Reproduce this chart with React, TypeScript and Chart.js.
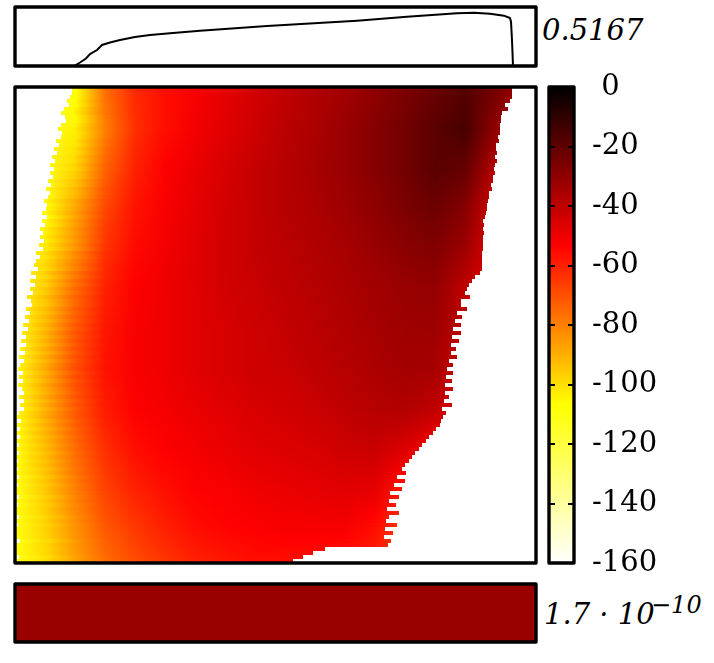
import React, { useEffect, useRef } from "react";
import { Chart, registerables } from "chart.js";

Chart.register(...registerables);

const SERIF = '"DejaVu Serif", serif';
const DOMAIN_X = 521;

// ---- colour scale ----
const scaleValues = [-160, -106.67, -53.33, 0];
const scaleColors = [
  [255, 255, 255],
  [255, 255, 0],
  [255, 0, 0],
  [0, 0, 0],
];
const colorbarTicks = [0, -20, -40, -60, -80, -100, -120, -140, -160];

// ---- top profile ----
const profileX = [60, 65, 71, 75, 82, 85, 87, 95, 105, 120, 135, 155, 185, 252, 342, 392, 442, 459, 475, 489, 495, 496, 497, 498];
const profileY = [0.005, 0.034, 0.073, 0.116, 0.155, 0.184, 0.204, 0.228, 0.252, 0.281, 0.301, 0.318, 0.342, 0.388, 0.439, 0.478, 0.511, 0.5167, 0.507, 0.488, 0.465, 0.429, 0.252, 0];
const profileLabel = "0.5167";

// ---- bottom residual ----
const residualValue = -32;

// ---- heat map: extents of each row ----
const leftEdge = [
  57, 57, 55, 52, 54, 49, 46, 50, 51, 46, 43, 47, 46, 41, 44, 39, 42, 37, 40, 35, 39, 35, 38, 33,
  36, 31, 35, 33, 29, 32, 31, 27, 32, 27, 30, 25, 28, 25, 29, 24, 28, 21, 25, 21, 19, 23, 16, 21,
  15, 20, 15, 18, 12, 16, 17, 11, 15, 10, 14, 8, 13, 7, 11, 6, 11, 5, 10, 4, 9, 5, 3, 8,
  4, 8, 3, 7, 9, 4, 9, 5, 9, 4, 2, 6, 2, 5, 1, 5, 1, 4, 1, 4, 0, 3, 0, 3,
  0, 4, 0, 3, 0, 1, 4, 0, 3, 0, 1, 4, 0, 3, 0, 1, 0, 5, 0, 1, 0, 4, 0,
];
const rightEdge = [
  497, 497, 497, 495, 490, 493, 487, 486, 486, 485, 485, 485, 483, 484, 481, 481, 482, 480, 482, 480, 479, 480, 478, 478,
  476, 477, 474, 474, 473, 472, 472, 471, 470, 468, 469, 468, 469, 468, 468, 468, 468, 467, 467, 467, 467, 467, 465, 460,
  457, 454, 452, 450, 455, 446, 446, 452, 442, 447, 440, 446, 438, 446, 437, 444, 436, 441, 436, 442, 434, 438, 432, 438,
  431, 437, 430, 438, 430, 434, 429, 437, 427, 431, 428, 426, 425, 421, 418, 414, 411, 407, 404, 400, 397, 394, 390, 387,
  391, 382, 390, 379, 387, 375, 384, 374, 381, 372, 384, 374, 371, 382, 370, 378, 369, 376, 373, 310, 298, 288, 278,
];

// ---- heat map: values read at these columns, on these rows ----
const heatColumns = [0, 30, 60, 90, 120, 150, 180, 210, 240, 270, 300, 330, 360, 390, 420, 450, 480, 510];
const heatRows = [0, 10, 20, 30, 40, 50, 60, 70, 80, 90, 100, 110, 118];
const heat00 = [-112, -112, -108, -76, -62, -56, -52, -48, -44, -40, -37, -34, -30, -26, -22, -18, -24, -36];
const heat10 = [-112, -112, -104, -80, -63, -56, -51, -47, -43, -39, -36, -32, -28, -24, -19, -15, -30, -38];
const heat20 = [-112, -112, -98, -74, -60, -53, -49, -45, -41, -38, -35, -32, -28, -24, -19, -21, -38, -42];
const heat30 = [-112, -108, -88, -68, -57, -52, -48, -44, -41, -38, -36, -33, -30, -26, -23, -28, -45, -48];
const heat40 = [-112, -102, -84, -64, -55, -51, -47, -44, -41, -39, -37, -35, -32, -29, -27, -33, -48, -50];
const heat50 = [-112, -96, -76, -60, -53, -50, -47, -44, -42, -40, -38, -36, -34, -32, -31, -40, -48, -50];
const heat60 = [-110, -92, -72, -58, -52, -50, -47, -45, -43, -41, -39, -37, -35, -33, -33, -40, -46, -48];
const heat70 = [-110, -90, -70, -57, -52, -50, -47, -45, -43, -42, -40, -38, -36, -34, -35, -44, -48, -50];
const heat80 = [-108, -90, -72, -59, -53, -51, -49, -47, -45, -44, -42, -40, -38, -37, -40, -48, -50, -52];
const heat90 = [-108, -93, -76, -63, -56, -53, -51, -49, -47, -46, -45, -43, -42, -46, -52, -54, -56, -56];
const heat100 = [-110, -96, -80, -67, -60, -56, -53, -52, -50, -49, -48, -47, -48, -58, -60, -60, -60, -60];
const heat110 = [-110, -98, -84, -72, -65, -60, -56, -54, -53, -52, -52, -52, -56, -66, -68, -68, -68, -68];
const heat118 = [-110, -100, -87, -76, -69, -64, -60, -58, -56, -56, -56, -58, -60, -68, -70, -70, -70, -70];
const heatTable = [heat00, heat10, heat20, heat30, heat40, heat50, heat60, heat70, heat80, heat90, heat100, heat110, heat118];

const rowLabels = leftEdge.map((_, i) => String(i));

function colorOf(v: number) {
  let k = 0;
  while (k < scaleValues.length - 2 && v > scaleValues[k + 1]) k++;
  const t = Math.min(1, Math.max(0, (v - scaleValues[k]) / (scaleValues[k + 1] - scaleValues[k])));
  const a = scaleColors[k];
  const b = scaleColors[k + 1];
  const c = a.map((x, j) => Math.round(x + (b[j] - x) * t));
  return `rgb(${c[0]},${c[1]},${c[2]})`;
}

// How far this row's edge sticks out from its neighbours; the streaks near the edge follow it.
function edgeJitter(row: number) {
  let sum = 0;
  let n = 0;
  for (let r = Math.max(0, row - 4); r <= Math.min(leftEdge.length - 1, row + 4); r++) {
    sum += leftEdge[r];
    n++;
  }
  return leftEdge[row] - sum / n;
}

function rowFill(chart: any, row: number) {
  const x = chart.scales.x;
  const a = x.getPixelForValue(0);
  const b = x.getPixelForValue(DOMAIN_X);
  if (!Number.isFinite(a) || !Number.isFinite(b)) return "transparent";
  const g = chart.ctx.createLinearGradient(a, 0, b, 0);
  let k = 0;
  while (k < heatRows.length - 2 && row > heatRows[k + 1]) k++;
  const t = (row - heatRows[k]) / (heatRows[k + 1] - heatRows[k]);
  const jitter = edgeJitter(row);
  heatColumns.forEach((col, c) => {
    const v = heatTable[k][c] + (heatTable[k + 1][c] - heatTable[k][c]) * t;
    const shifted = col + 1.2 * jitter * Math.max(0, 1 - col / 110);
    g.addColorStop(Math.min(1, Math.max(0, shifted / DOMAIN_X)), colorOf(v));
  });
  return g;
}

function barFill(ctx: any) {
  const y = ctx.chart.scales.y;
  const a = y.getPixelForValue(-160);
  const b = y.getPixelForValue(0);
  if (!Number.isFinite(a) || !Number.isFinite(b)) return "transparent";
  const g = ctx.chart.ctx.createLinearGradient(0, a, 0, b);
  scaleValues.forEach((v) => g.addColorStop((v + 160) / 160, colorOf(v)));
  return g;
}

const framePlugin = {
  id: "panelFrame",
  afterDatasetsDraw(chart: any) {
    const { ctx, chartArea: a } = chart;
    ctx.save();
    ctx.strokeStyle = "#000";
    ctx.lineWidth = 3.4;
    ctx.lineJoin = "round";
    ctx.strokeRect(a.left, a.top, a.right - a.left, a.bottom - a.top);
    ctx.restore();
  },
};

const hiddenX = { type: "linear", min: 0, max: DOMAIN_X, display: false };
const baseOptions = {
  responsive: false,
  animation: false,
  events: [],
  layout: { padding: 2 },
  plugins: { legend: { display: false }, tooltip: { enabled: false } },
};

function boxStyle(left: number, top: number): React.CSSProperties {
  return { position: "absolute", left, top };
}

function Label(props: { x: number; baseline: number; size: number; text: string }) {
  return (
    <div
      style={{
        position: "absolute",
        left: props.x,
        top: props.baseline - 0.846 * props.size,
        fontFamily: SERIF,
        fontStyle: "italic",
        fontSize: props.size,
        lineHeight: 1,
        whiteSpace: "nowrap",
        color: "#000",
      }}
    >
      {props.text}
    </div>
  );
}

export default function App() {
  const topRef = useRef<HTMLCanvasElement>(null);
  const mainRef = useRef<HTMLCanvasElement>(null);
  const barRef = useRef<HTMLCanvasElement>(null);
  const lowRef = useRef<HTMLCanvasElement>(null);

  useEffect(() => {
    const charts: Chart[] = [];

    charts.push(
      new Chart(topRef.current as any, {
        type: "line",
        data: {
          datasets: [
            {
              data: profileX.map((x, i) => ({ x, y: profileY[i] })),
              borderColor: "#000",
              borderWidth: 2,
              pointRadius: 0,
              tension: 0,
            },
          ],
        },
        options: {
          ...baseOptions,
          scales: { x: hiddenX, y: { type: "linear", min: 0, max: 0.572, display: false } },
        },
        plugins: [framePlugin],
      } as any)
    );

    charts.push(
      new Chart(mainRef.current as any, {
        type: "bar",
        data: {
          labels: rowLabels,
          datasets: [
            {
              data: leftEdge.map((l, i) => [l, rightEdge[i]]),
              backgroundColor: (ctx: any) => rowFill(ctx.chart, ctx.dataIndex),
              barPercentage: 1,
              categoryPercentage: 1,
              inflateAmount: 0,
              borderWidth: 0,
            },
          ],
        },
        options: {
          ...baseOptions,
          indexAxis: "y",
          scales: { x: hiddenX, y: { type: "category", display: false } },
        },
        plugins: [framePlugin],
      } as any)
    );

    charts.push(
      new Chart(barRef.current as any, {
        type: "bar",
        data: {
          labels: ["scale"],
          datasets: [
            {
              data: [[scaleValues[0], scaleValues[scaleValues.length - 1]]],
              backgroundColor: barFill,
              barPercentage: 1,
              categoryPercentage: 1,
              inflateAmount: 0,
            },
          ],
        },
        options: {
          ...baseOptions,
          layout: { autoPadding: false, padding: { left: 2, right: 0, top: 17, bottom: 17 } },
          scales: {
            x: { type: "category", display: false },
            y: {
              type: "linear",
              position: "right",
              min: -160,
              max: 0,
              afterFit: (s: any) => {
                s.width = 140;
                s.paddingTop = 0;
                s.paddingBottom = 0;
              },
              afterBuildTicks: (s: any) => {
                s.ticks = colorbarTicks.map((value) => ({ value }));
              },
              border: { display: false, dash: [6, 13, 6] },
              grid: { color: "#000", lineWidth: 2, drawTicks: false, z: 1 },
              ticks: {
                autoSkip: false,
                padding: 18,
                color: "#000",
                font: { family: SERIF, size: 29 },
                callback: (v: number) => (v === 0 ? " 0" : String(v)),
              },
            },
          },
        },
        plugins: [framePlugin],
      } as any)
    );

    charts.push(
      new Chart(lowRef.current as any, {
        type: "bar",
        data: {
          labels: ["residual"],
          datasets: [
            {
              data: [[0, DOMAIN_X]],
              backgroundColor: colorOf(residualValue),
              barPercentage: 1,
              categoryPercentage: 1,
              inflateAmount: 0,
            },
          ],
        },
        options: {
          ...baseOptions,
          indexAxis: "y",
          scales: { x: hiddenX, y: { type: "category", display: false } },
        },
        plugins: [framePlugin],
      } as any)
    );

    return () => charts.forEach((c) => c.destroy());
  }, []);

  return (
    <div style={{ position: "absolute", left: 0, top: 0, width: 714, height: 663, overflow: "hidden", background: "#fff" }}>
      <canvas ref={topRef} width={525} height={63} style={boxStyle(13, 5)} />
      <canvas ref={mainRef} width={525} height={480} style={boxStyle(13, 85)} />
      <canvas ref={barRef} width={167} height={510} style={boxStyle(547, 70)} />
      <canvas ref={lowRef} width={525} height={62} style={boxStyle(13, 582)} />
      <Label x={542} baseline={41} size={29} text={profileLabel} />
      <Label x={544} baseline={625} size={29} text={"1.7 · 10"} />
      <Label x={651} baseline={613} size={24} text={"−10"} />
    </div>
  );
}
